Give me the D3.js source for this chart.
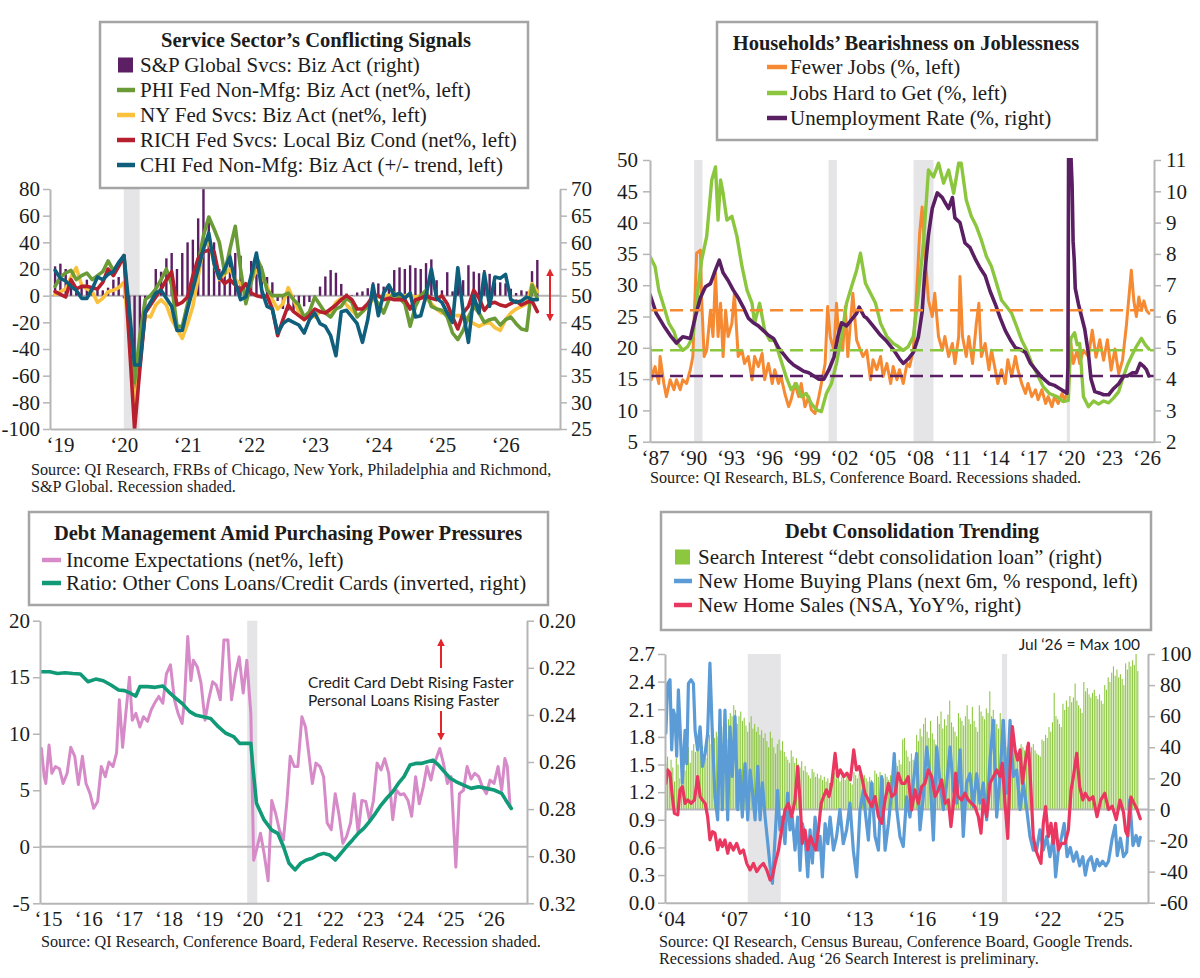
<!DOCTYPE html>
<html>
<head>
<meta charset="utf-8">
<title>Four panel chart</title>
<script src="https://cdn.jsdelivr.net/npm/d3@7"></script>
<style>
  body { margin: 0; background: #fff; }
  svg { display: block; }
</style>
</head>
<body>
<svg id="chart" width="1200" height="978"></svg>
<script>
// ---------- Panel 1: Service Sector's Conflicting Signals (monthly, Jan 2019 on) ----------
const svcStartYear = 2019;
const spGlobalBizAct = [
  55.5, 56, 55, 53, 51, 52, 53, 51, 51.5, 51, 51.5, 53,
  53.5, 49.5, 40, 27, 37, 48, 50, 55, 54.5, 57, 58, 55,
  58, 60, 60.5, 64.5, 70.5, 64.5, 60, 55, 55, 58.5, 58, 57.5,
  51, 56.5, 58, 55.5, 53.5, 52.5, 49, 47.5, 47.2, 47, 47.5, 48,
  48.8, 49.7, 51.7, 53.6, 54.8, 54.3, 52.2, 50.4, 50.1, 50.6, 50.8, 51.4,
  52.5, 52.3, 51.7, 51.3, 54.8, 55.3, 55, 55.7, 55.2, 55, 56.1, 56.8,
  52.9, 51, 54.4, 50.8, 52.3, 52.9, 55.7, 54.5, 54.2, 54.8, 54.1, 52.5,
  52.5, 52.3, 51.3, 50.5, 51, 50.8, 54.6, 56.7
];
const phiNonMfg = [
  7, 14, 17, 19, 12, 15, 17, 12, 15, 18, 26, 19,
  24, 30, -20, -65, -30, -3, 0, 5, 12, 20, 8, -23,
  -23, -6, 10, 24, 45, 59, 50, 40, 17, 35, 52, 20,
  -6, 10, 29, 20, 4, 0, 0, 0, 2, -3, -7, -16,
  -12, -1, -7, -13, -16, -10, -8, -2, -5, -16, -12, -8,
  -1, -6, -13, -3, 2, -2, -6, -23, -8, 0, 4, -8,
  -10, -11, -16, -28, -33, -26, -16, -8, -13, -20, -18, -17,
  -22, -18, -16, -21, -25, -26, 8, -2
];
const nySvcs = [
  1, 3, 5, 14, 21, 8, 5, 3, -5, -2, 3, 4,
  6, 10, -30, -85, -50, -15, -16, -7, -3, -7, -18, -25,
  -32, -21, -8, 14, 37, 42, 24, 12, 16, 20, 12, 9,
  4, 11, 19, 14, 7, -3, -10, -6, 6, -3, -12, -18,
  -13, -16, -12, -12, -12, -5, -2, -7, -11, -15, -12, -8,
  -3, -1, 0, 0, 0, -2, 0, 0, -1, 0, -2, -6,
  -10, -13, -12, -15, -15, -15, -18, -21, -23, -21, -20, -24,
  -26, -18, -13, -10, -8, -6, 9, 3
];
const richSvcs = [
  3, 1, -1, 12, 5, 7, 7, 6, 5, 10, 20, 15,
  22, 30, -35, -100, -55, -13, -7, -1, 5, 12, 18, -7,
  -5, -1, 15, 28, 33, 34, 33, 14, 9, 12, 8, 4,
  9, 2, 0, -1, 0, -10, -30, -18, -7, -12, -15, -18,
  -15, -10, -12, -13, -10, -7, -3, 0, -3, -10, -10, -6,
  0, 0, -3, -2, -3, -3, -3, -10, -3, -2, 0, -2,
  -3, 0, -6, -16, -25, -13, -8, 4, -2, -11, -6, -5,
  -7, -8, -6, -4, -7, -5, -4, -12
];
const chiNonMfg = [
  19, 13, 11, 7, 4, -2, -2, 5, 14, 12, 16, 18,
  25, 30, -10, -52, -52, -12, -5, 2, 4, -2, -8, -26,
  -26, -10, 5, 20, 35, 47, 24, 13, 20, 29, 10, -3,
  -1, 15, 32, 4, -8, -10, -28, -21, -18, -20, -22, -28,
  -18, -13, -21, -23, -30, -45, -12, -11, -16, -21, -35, -18,
  8, -15, 2, 8, 0, 2, -2, 2, -16, -15, 0, 20,
  -2, -5, -13, -20, 21, -12, -35, 0, -13, 17, -8, 14,
  13, 16, -3, -5, -4, -1, -3, -3
];
const svcRecessions = [[2020.08, 2020.33]];

// ---------- Panel 2: Households' Bearishness on Joblessness ----------
const fewerJobs = [
  [1987.0,20.2],[1987.1,14.9],[1987.4,17],[1987.7,14.3],[1987.8,18.6],[1988.1,14.3],[1988.3,12.2],[1988.6,14.9],
  [1988.9,13.3],[1989.1,14.9],[1989.4,13.3],[1989.6,14.9],[1989.9,14.3],[1990.2,16.5],[1990.4,18.6],[1990.7,35.1],
  [1991.0,35.6],[1991.1,27.6],[1991.3,18.6],[1991.5,19.6],[1991.8,26],[1992.0,21.8],[1992.2,31.9],[1992.4,21.8],
  [1992.6,27.1],[1992.8,18.6],[1993.0,26],[1993.2,21.8],[1993.5,23.9],[1993.7,28.7],[1994.0,18.6],[1994.3,19.6],
  [1994.5,17.5],[1994.8,18.6],[1995.1,14.9],[1995.3,18.6],[1995.6,17],[1995.9,19.1],[1996.1,14.9],[1996.4,17.5],
  [1996.7,14.3],[1996.9,16.5],[1997.2,14.3],[1997.4,15.4],[1997.7,12.7],[1998.0,10.6],[1998.2,11.7],[1998.5,14.3],
  [1998.8,12.2],[1999.0,14.3],[1999.3,10.6],[1999.6,12.2],[1999.8,10.1],[2000.1,9.5],[2000.4,12.2],[2000.6,14.3],
  [2000.9,17.5],[2001.1,26.6],[2001.3,21.8],[2001.6,19.6],[2001.8,27.1],[2002.0,21.2],[2002.3,19.6],[2002.5,26.6],
  [2002.7,18.6],[2002.9,23.9],[2003.1,28.7],[2003.4,21.2],[2003.7,19.6],[2003.9,18.6],[2004.2,19.6],[2004.5,14.9],
  [2004.7,18.1],[2005.0,16.5],[2005.3,18.6],[2005.5,15.4],[2005.8,17.5],[2006.1,14.3],[2006.3,17],[2006.6,14.9],
  [2006.8,16.5],[2007.1,14.3],[2007.4,17.5],[2007.6,17],[2007.9,19.6],[2008.2,30.3],[2008.4,38.3],[2008.6,42.5],
  [2008.8,35.6],[2009.1,27.6],[2009.4,25],[2009.6,28.7],[2009.9,21.8],[2010.2,19.6],[2010.4,21.8],[2010.7,18.6],
  [2011.0,20.7],[2011.2,17.5],[2011.5,21.8],[2011.6,31.4],[2011.8,21.8],[2012.1,18.6],[2012.3,21.8],[2012.6,17.5],
  [2012.9,23.9],[2013.1,27.1],[2013.3,18.6],[2013.6,20.7],[2013.9,16.5],[2014.1,19.6],[2014.4,16.5],[2014.6,14.3],
  [2014.9,16.5],[2015.2,14.3],[2015.4,18.1],[2015.7,15.4],[2016.0,18.6],[2016.2,16.5],[2016.5,14.3],[2016.8,12.7],
  [2017.0,14.3],[2017.3,12.2],[2017.6,13.3],[2017.8,11.7],[2018.1,13.3],[2018.4,11.1],[2018.6,12.2],[2018.9,10.6],
  [2019.1,12.2],[2019.4,11.1],[2019.7,12.7],[2019.9,11.7],[2020.2,13.3],[2020.4,20.7],[2020.6,17.5],[2020.9,19.6],
  [2021.1,17.5],[2021.4,19.6],[2021.8,18.6],[2022.1,22.8],[2022.4,18.5],[2022.7,21.3],[2023.0,18.0],[2023.3,21.3],
  [2023.6,16.4],[2023.9,19.8],[2024.2,15.9],[2024.5,18],[2024.8,23.4],[2025.2,32.4],[2025.4,27.5],[2025.6,25],
  [2025.8,28.1],[2026.0,26],[2026.2,27.5],[2026.4,26],[2026.6,25.5]
];
const jobsHardToGet = [
  [1987.0,34.6],[1987.4,33],[1987.7,29.2],[1988.1,26.6],[1988.5,23.9],[1988.9,22.6],[1989.2,20.7],[1989.6,19.6],
  [1990.0,20.2],[1990.4,21.8],[1990.8,29.2],[1991.1,34],[1991.5,37.8],[1991.9,46.8],[1992.2,48.9],[1992.4,40.4],
  [1992.6,46.8],[1992.8,44.7],[1993.1,40.4],[1993.5,41],[1993.9,37.8],[1994.3,33],[1994.7,29.2],[1995.1,27.1],
  [1995.3,23.9],[1995.7,27.1],[1996.1,22.8],[1996.5,21.2],[1996.9,21.2],[1997.3,18.6],[1997.8,15.4],[1998.2,13.3],
  [1998.6,14.3],[1999.0,12.2],[1999.4,12.7],[1999.8,11.1],[2000.2,10.1],[2000.6,9.8],[2001.0,12.7],[2001.4,14.3],
  [2001.8,17.5],[2002.2,21.8],[2002.6,27.1],[2003.0,29.8],[2003.4,32.4],[2003.7,35.1],[2004.1,30.3],[2004.5,28.7],
  [2004.9,27.1],[2005.3,23.9],[2005.8,21.8],[2006.3,20.7],[2006.7,20.2],[2007.1,19.6],[2007.5,20.2],[2007.9,21.8],
  [2008.3,28.7],[2008.7,36.7],[2009.1,48.4],[2009.5,47.3],[2009.9,49.5],[2010.3,46.3],[2010.7,48.4],[2011.1,44.7],
  [2011.5,49.5],[2011.7,49.5],[2012.1,43.6],[2012.5,41],[2012.9,39.4],[2013.3,37.2],[2013.7,34.6],[2014.1,33],
  [2014.5,30.3],[2014.9,27.6],[2015.3,26.6],[2015.7,25.5],[2016.1,23.4],[2016.5,21.2],[2016.9,19.6],[2017.3,17.5],
  [2017.7,15.9],[2018.2,13.8],[2018.7,12.7],[2019.3,12.2],[2019.8,11.4],[2020.2,11.6],[2020.4,21.5],[2020.7,22.4],
  [2020.9,20.5],[2021.1,20.7],[2021.4,12.2],[2021.8,10.6],[2022.2,11.5],[2022.6,11],[2023.0,11.5],[2023.4,11.2],
  [2023.8,12],[2024.2,13],[2024.5,15],[2024.9,17.3],[2025.3,19],[2025.6,20.2],[2026.0,21.5],[2026.3,20.5],[2026.6,19.8]
];
const unemploymentRate = [
  [1987.0,6.7],[1987.5,6.1],[1988.1,5.7],[1988.6,5.4],[1989.1,5.15],[1989.6,5.35],[1990.2,5.3],[1990.6,6.0],
  [1991.0,6.6],[1991.4,6.95],[1991.8,7.05],[1992.2,7.5],[1992.5,7.8],[1992.8,7.4],[1993.2,7.15],[1993.6,6.85],
  [1994.0,6.6],[1994.4,6.3],[1994.8,5.95],[1995.2,5.8],[1995.6,5.7],[1996.0,5.55],[1996.4,5.4],[1996.8,5.3],
  [1997.2,5.0],[1997.6,4.8],[1998.0,4.6],[1998.4,4.45],[1998.8,4.35],[1999.2,4.25],[1999.6,4.2],[2000.0,4.1],
  [2000.4,4.0],[2000.8,4.0],[2001.2,4.3],[2001.6,4.7],[2001.9,5.35],[2002.2,5.8],[2002.6,5.7],[2003.0,5.9],
  [2003.4,6.1],[2003.6,6.3],[2004.0,6.0],[2004.2,5.95],[2004.7,5.7],[2005.3,5.4],[2005.8,5.2],[2006.3,4.95],
  [2006.8,4.65],[2007.1,4.5],[2007.5,4.65],[2007.9,4.85],[2008.3,5.35],[2008.6,6.15],[2008.8,7.35],[2009.1,8.6],
  [2009.4,9.45],[2009.8,9.95],[2010.2,9.8],[2010.4,9.65],[2010.7,9.45],[2011.0,9.8],[2011.2,9.15],[2011.6,9.0],
  [2012.0,8.35],[2012.4,8.2],[2012.8,7.85],[2013.2,7.55],[2013.6,7.3],[2014.0,6.8],[2014.4,6.4],[2014.8,5.95],
  [2015.2,5.55],[2015.6,5.25],[2016.0,5.0],[2016.4,4.95],[2016.8,4.85],[2017.2,4.5],[2017.6,4.3],[2018.0,4.1],
  [2018.4,3.95],[2018.7,3.85],[2019.1,3.8],[2019.5,3.7],[2019.9,3.6],[2020.1,3.55],[2020.17,4.4],[2020.25,14.7],
  [2020.33,13.2],[2020.42,11.0],[2020.5,10.2],[2020.58,8.4],[2020.67,7.8],[2020.75,6.9],[2021.0,6.4],[2021.25,6.0],
  [2021.5,5.6],[2021.8,4.8],[2022.0,4.0],[2022.3,3.6],[2022.7,3.55],[2023.0,3.5],[2023.4,3.5],[2023.8,3.7],
  [2024.2,3.85],[2024.6,4.1],[2024.9,4.1],[2025.3,4.2],[2025.6,4.2],[2025.9,4.5],[2026.2,4.4],[2026.4,4.3],[2026.6,4.1]
];
const fewerJobsAvg = 26.0, jobsHardAvg = 19.6, unemploymentAvg = 4.1;
const jobRecessions = [[1990.5, 1991.17], [2001.17, 2001.83], [2007.92, 2009.5], [2020.08, 2020.33]];

// ---------- Panel 3: Debt Management Amid Purchasing Power Pressures ----------
const incomeExpectations = [
  [2014.96,8.7],[2015.03,6.2],[2015.07,5.6],[2015.15,9.0],[2015.22,6.5],[2015.31,7.1],[2015.41,6.9],[2015.5,5.6],
  [2015.6,6.5],[2015.69,8.8],[2015.79,8.0],[2015.88,5.5],[2015.98,8.0],[2016.07,5.6],[2016.17,4.7],[2016.26,3.4],
  [2016.36,4.0],[2016.45,7.1],[2016.55,6.2],[2016.64,7.5],[2016.74,7.1],[2016.83,8.3],[2016.9,13.0],[2016.98,8.8],
  [2017.06,11.8],[2017.15,15.0],[2017.22,11.2],[2017.31,11.8],[2017.41,10.6],[2017.5,11.5],[2017.6,11.1],[2017.69,12.1],
  [2017.79,12.8],[2017.88,13.3],[2017.98,12.7],[2018.07,15.3],[2018.17,16.1],[2018.27,13.0],[2018.36,11.8],[2018.46,10.9],
  [2018.52,13.0],[2018.6,18.6],[2018.68,14.7],[2018.74,16.5],[2018.84,15.9],[2018.93,14.5],[2019.03,11.2],[2019.12,13.0],
  [2019.22,14.6],[2019.31,14.3],[2019.41,13.0],[2019.5,18.3],[2019.6,18.3],[2019.69,13.0],[2019.79,15.3],[2019.88,16.8],
  [2019.98,13.6],[2020.07,16.5],[2020.17,11.8],[2020.24,-1.2],[2020.31,-0.3],[2020.41,1.2],[2020.5,-0.6],[2020.6,-3.0],
  [2020.69,4.1],[2020.79,2.9],[2020.88,1.5],[2020.98,0.6],[2021.07,4.1],[2021.15,8.0],[2021.25,7.1],[2021.34,7.1],
  [2021.44,11.5],[2021.53,10.6],[2021.63,7.7],[2021.7,5.6],[2021.79,7.4],[2021.89,7.1],[2021.98,6.2],[2022.07,2.1],
  [2022.17,1.5],[2022.27,4.7],[2022.36,2.9],[2022.46,0.3],[2022.55,0.9],[2022.65,2.1],[2022.74,4.7],[2022.84,1.2],
  [2022.93,4.1],[2023.03,4.0],[2023.12,2.4],[2023.22,4.1],[2023.31,7.4],[2023.41,6.8],[2023.5,7.8],[2023.6,6.5],
  [2023.7,2.4],[2023.79,5.0],[2023.89,4.6],[2023.98,4.7],[2024.08,4.1],[2024.17,2.7],[2024.27,6.2],[2024.36,3.8],
  [2024.46,5.3],[2024.55,7.1],[2024.65,5.9],[2024.74,7.4],[2024.87,8.7],[2024.96,7.4],[2025.06,5.6],[2025.15,6.2],
  [2025.27,-1.8],[2025.36,4.7],[2025.46,5.0],[2025.55,7.1],[2025.65,6.0],[2025.74,6.5],[2025.84,6.2],[2025.93,5.3],
  [2026.03,4.7],[2026.12,5.9],[2026.22,5.6],[2026.32,7.1],[2026.41,5.0],[2026.49,7.8],[2026.55,7.1],[2026.62,3.5]
];
const loansToCardsRatio = [
  [2014.96,0.2217],[2015.17,0.2217],[2015.36,0.2224],[2015.55,0.2221],[2015.74,0.2224],[2015.93,0.2226],[2016.12,0.2259],
  [2016.31,0.2248],[2016.5,0.2255],[2016.69,0.2273],[2016.88,0.2294],[2017.03,0.2297],[2017.17,0.2308],[2017.31,0.232],
  [2017.41,0.228],[2017.6,0.228],[2017.79,0.2283],[2017.98,0.2277],[2018.12,0.2301],[2018.27,0.2325],[2018.46,0.2351],
  [2018.65,0.2386],[2018.79,0.24],[2018.98,0.2408],[2019.17,0.2415],[2019.36,0.245],[2019.55,0.2478],[2019.74,0.2492],
  [2019.89,0.2521],[2020.03,0.2521],[2020.17,0.2521],[2020.22,0.262],[2020.31,0.2775],[2020.5,0.2846],[2020.69,0.2889],
  [2020.84,0.2903],[2020.98,0.2959],[2021.12,0.303],[2021.27,0.3058],[2021.41,0.303],[2021.55,0.3016],[2021.7,0.3009],
  [2021.84,0.2995],[2021.98,0.2988],[2022.13,0.2995],[2022.27,0.3016],[2022.41,0.2988],[2022.55,0.2959],[2022.7,0.2931],
  [2022.84,0.2903],[2022.98,0.2882],[2023.12,0.2853],[2023.27,0.2818],[2023.41,0.2783],[2023.55,0.2754],[2023.7,0.2726],
  [2023.84,0.2691],[2023.98,0.2662],[2024.13,0.2613],[2024.27,0.2606],[2024.41,0.2606],[2024.56,0.2599],[2024.7,0.2592],
  [2024.84,0.2613],[2024.98,0.2641],[2025.13,0.2669],[2025.27,0.2683],[2025.46,0.2698],[2025.65,0.2712],[2025.84,0.2705],
  [2026.03,0.2712],[2026.22,0.2719],[2026.41,0.2733],[2026.51,0.2761],[2026.65,0.2797]
];
const debtRecessions = [[2020.08, 2020.33]];

// ---------- Panel 4: Debt Consolidation Trending ----------
const searchStartYear = 2004; // monthly, Jan 2004 .. Aug 2026
const debtConsolidationSearch = [
  30, 34, 22, 32, 27, 18, 33, 29, 20, 31, 28, 25,
  36, 40, 30, 38, 42, 37, 40, 44, 38, 41, 36, 33,
  45, 48, 42, 52, 46, 50, 47, 55, 49, 53, 48, 45,
  58, 62, 60, 67, 64, 55, 60, 63, 57, 59, 54, 50,
  56, 60, 52, 55, 50, 53, 48, 51, 46, 49, 44, 40,
  50, 46, 40, 36, 42, 45, 38, 44, 37, 34, 32, 30,
  38, 34, 30, 33, 29, 27, 31, 25, 28, 24, 22, 20,
  26, 24, 21, 23, 20, 22, 19, 21, 18, 20, 17, 16,
  22, 24, 20, 23, 18, 21, 24, 19, 22, 20, 17, 16,
  24, 22, 20, 23, 21, 19, 22, 20, 18, 21, 19, 17,
  25, 23, 21, 24, 22, 20, 23, 21, 19, 22, 20, 18,
  30, 28, 32, 29, 45, 46, 38, 34, 31, 36, 32, 28,
  48, 44, 52, 47, 55, 59, 50, 46, 57, 49, 45, 42,
  60, 55, 63, 52, 58, 54, 61, 70, 56, 53, 50, 47,
  62, 59, 57, 54, 60, 67, 58, 55, 66, 57, 53, 50,
  67, 63, 60, 58, 65, 62, 76, 60, 64, 58, 55, 52,
  62, 58, 45, 38, 40, 42, 38, 41, 39, 36, 35, 33,
  42, 40, 38, 41, 39, 37, 40, 42, 38, 36, 35, 34,
  45, 44, 48, 46, 53, 50, 56, 75, 60, 58, 55, 53,
  68, 64, 70, 66, 73, 69, 72, 81, 70, 67, 65, 62,
  82, 76, 78, 74, 72, 75, 77, 73, 71, 74, 70, 68,
  80, 77, 85, 82, 88, 92, 86, 90, 85, 87, 84, 80,
  94, 90, 95, 92, 96, 93, 100, 89
];
const homeBuyingPlans = [
  [2004.0,1.84],[2004.09,2.38],[2004.2,2.42],[2004.28,1.66],[2004.36,2.09],[2004.44,2.02],[2004.52,1.59],[2004.6,2.31],
  [2004.68,1.91],[2004.79,1.3],[2004.92,1.87],[2005.0,1.51],[2005.08,2.38],[2005.21,2.42],[2005.32,2.38],[2005.4,1.87],
  [2005.52,1.66],[2005.64,1.91],[2005.75,1.48],[2005.88,1.62],[2006.0,1.84],[2006.11,2.6],[2006.23,1.8],[2006.35,1.15],
  [2006.48,0.9],[2006.59,2.09],[2006.7,1.01],[2006.83,2.09],[2006.96,0.9],[2007.07,1.91],[2007.18,1.37],[2007.31,2.02],
  [2007.44,1.01],[2007.55,1.44],[2007.66,0.93],[2007.79,1.51],[2007.92,0.9],[2008.03,1.44],[2008.14,1.22],[2008.27,0.9],
  [2008.4,1.48],[2008.51,0.9],[2008.62,1.3],[2008.75,0.93],[2008.88,0.64],[2008.99,0.39],[2009.1,0.21],[2009.23,0.72],
  [2009.35,1.22],[2009.46,0.79],[2009.57,0.93],[2009.7,0.64],[2009.83,1.19],[2009.94,0.79],[2010.05,0.93],[2010.18,0.57],
  [2010.31,0.93],[2010.42,0.35],[2010.53,0.86],[2010.66,0.72],[2010.79,0.28],[2010.9,0.79],[2011.01,0.43],[2011.14,0.93],
  [2011.27,0.57],[2011.38,0.72],[2011.49,0.28],[2011.62,0.86],[2011.75,0.64],[2011.86,0.93],[2012.02,0.57],[2012.17,0.72],
  [2012.33,1.01],[2012.49,0.64],[2012.65,0.79],[2012.81,1.08],[2012.97,0.57],[2013.13,0.28],[2013.29,1.01],[2013.45,1.22],
  [2013.53,1.01],[2013.69,0.68],[2013.85,1.3],[2014.01,0.72],[2014.17,0.57],[2014.33,1.37],[2014.49,0.57],[2014.65,0.86],
  [2014.81,1.22],[2014.93,1.62],[2015.05,1.01],[2015.2,0.72],[2015.36,0.61],[2015.52,1.15],[2015.68,0.93],[2015.84,1.3],
  [2016.0,1.62],[2016.16,0.79],[2016.32,1.15],[2016.48,1.69],[2016.64,1.37],[2016.8,0.68],[2016.96,1.69],[2017.12,1.3],
  [2017.28,1.01],[2017.44,1.3],[2017.6,1.69],[2017.76,1.22],[2017.92,1.08],[2018.08,1.66],[2018.23,0.72],[2018.39,1.3],
  [2018.55,1.4],[2018.71,1.04],[2018.87,1.4],[2019.03,1.08],[2019.19,1.3],[2019.35,0.9],[2019.51,1.55],[2019.67,1.98],
  [2019.83,0.93],[2019.99,1.37],[2020.15,1.98],[2020.31,1.19],[2020.47,1.98],[2020.63,1.37],[2020.79,1.44],[2020.95,1.01],
  [2021.11,1.3],[2021.27,1.01],[2021.42,0.72],[2021.58,0.57],[2021.74,0.57],[2021.9,0.79],[2022.06,0.57],[2022.22,0.72],
  [2022.38,0.5],[2022.54,0.72],[2022.65,0.28],[2022.78,0.57],[2022.94,0.72],[2023.06,0.86],[2023.2,0.5],[2023.35,0.6],
  [2023.5,0.45],[2023.65,0.55],[2023.8,0.4],[2023.95,0.5],[2024.07,0.3],[2024.2,0.45],[2024.35,0.5],[2024.5,0.35],
  [2024.63,0.47],[2024.75,0.4],[2024.9,0.45],[2025.05,0.4],[2025.18,0.45],[2025.35,0.69],[2025.5,0.84],[2025.6,0.51],
  [2025.75,0.7],[2025.9,0.5],[2026.05,0.55],[2026.2,1.12],[2026.35,0.62],[2026.5,0.73],[2026.62,0.62],[2026.7,0.71]
];
const newHomeSalesYoY = [
  [2004.0,16.8],[2004.09,25.4],[2004.2,23.3],[2004.31,8.3],[2004.41,-2.5],[2004.57,-3.5],[2004.68,12.6],[2004.79,14.7],
  [2004.92,3.9],[2005.05,6.1],[2005.21,3.9],[2005.37,6.1],[2005.52,21.1],[2005.64,8.3],[2005.75,6.1],[2005.88,3.9],
  [2006.0,-4.6],[2006.11,-19.6],[2006.23,-14.3],[2006.35,-15.3],[2006.48,-26.1],[2006.59,-19.6],[2006.7,-23.9],[2006.83,-19.6],
  [2006.96,-28.2],[2007.07,-21.8],[2007.23,-26.1],[2007.39,-21.8],[2007.55,-28.2],[2007.71,-26.1],[2007.87,-34.7],[2008.03,-38.9],
  [2008.19,-34.7],[2008.35,-40],[2008.51,-36.8],[2008.67,-34.7],[2008.83,-38.9],[2008.99,-45.4],[2009.1,-43.2],[2009.23,-34.7],
  [2009.39,-26.1],[2009.54,-13.2],[2009.7,-0.3],[2009.86,3.9],[2010.02,-4.6],[2010.18,6.1],[2010.31,27.6],[2010.42,6.1],
  [2010.53,-21.8],[2010.66,-13.2],[2010.79,-26.1],[2010.92,-17.5],[2011.04,-21.8],[2011.17,-26.1],[2011.3,-13.2],[2011.43,3.9],
  [2011.55,8.3],[2011.68,12.6],[2011.81,8.3],[2011.94,16.8],[2012.1,36.1],[2012.22,21.1],[2012.35,25.4],[2012.51,21.1],
  [2012.67,23.3],[2012.83,19],[2012.99,38.3],[2013.12,25.4],[2013.25,27.6],[2013.37,21.1],[2013.53,10.4],[2013.69,6.1],
  [2013.85,1.8],[2014.01,8.3],[2014.17,-4.6],[2014.33,-8.9],[2014.49,6.1],[2014.65,16.8],[2014.81,8.3],[2014.97,10.4],
  [2015.12,23.3],[2015.28,16.8],[2015.44,16.8],[2015.6,21.1],[2015.76,-0.3],[2015.92,12.6],[2016.08,3.9],[2016.24,14.7],
  [2016.4,16.8],[2016.56,25.4],[2016.72,21.1],[2016.88,8.3],[2017.04,12.6],[2017.2,19],[2017.36,3.9],[2017.52,6.1],
  [2017.64,-11],[2017.76,3.9],[2017.87,23.3],[2017.98,8.3],[2018.16,6.1],[2018.31,10.4],[2018.47,6.1],[2018.63,3.9],
  [2018.79,1.8],[2018.95,-4.6],[2019.08,-15.3],[2019.19,6.1],[2019.35,-4.6],[2019.51,16.8],[2019.67,21.1],[2019.83,25.4],
  [2019.99,21.1],[2020.1,29.7],[2020.23,3.9],[2020.36,-18.7],[2020.47,25.4],[2020.58,53.3],[2020.71,38.3],[2020.83,31.8],
  [2020.95,38.3],[2021.06,16.8],[2021.19,29.7],[2021.35,42.6],[2021.47,12.6],[2021.58,-17.5],[2021.7,-26.1],[2021.82,-30.4],
  [2021.95,-34.7],[2022.06,-8.9],[2022.17,1.8],[2022.3,-17.5],[2022.43,-8.9],[2022.54,-21.8],[2022.65,-8.9],[2022.78,-26.1],
  [2022.94,-21.8],[2023.1,-21.8],[2023.26,-13.2],[2023.39,12.6],[2023.5,21.1],[2023.66,36.1],[2023.8,14.7],[2023.95,6.1],
  [2024.07,10.4],[2024.26,6.1],[2024.44,8.2],[2024.63,-4.6],[2024.81,6.1],[2025.0,10.4],[2025.18,0],[2025.36,2.1],
  [2025.55,-6.5],[2025.73,6],[2025.9,-2],[2026.0,-14],[2026.1,-17],[2026.25,8],[2026.4,4],[2026.55,0],[2026.7,-6]
];
const housingRecessions = [[2007.92, 2009.5], [2020.08, 2020.33]];

// ---------- drawing ----------
const SERIF = '"Liberation Serif", "Times New Roman", serif';
const SANS = 'Lato, "Noto Sans", sans-serif';
const AXIS_GRAY = '#b5b5b5', SHADE = '#e5e5e8', INK = '#1c1c1c', RED = '#e3262e';
const TICK_FONT = 21, LEGEND_FONT = 21, TITLE_FONT = 20.5, NOTE_FONT = 16.2;

// plain hyphen for negatives, like the original chart
const intFmt = d => d3.format('d')(d).replace('\u2212', '-');

const svg = d3.select('#chart');
svg.append('rect').attr('width', 1200).attr('height', 978).attr('fill', '#fff');
const defs = svg.append('defs');
defs.append('marker').attr('id', 'redHead').attr('viewBox', '0 0 10 10')
  .attr('refX', 8).attr('refY', 5).attr('markerWidth', 4).attr('markerHeight', 4)
  .attr('orient', 'auto-start-reverse')
  .append('path').attr('d', 'M0,0L10,5L0,10z').attr('fill', RED);

function makePanel(id, x, yL, yR, recessions) {
  const [x0, x1] = x.range();
  const [y0, y1] = yL.range(); // bottom, top
  const g = svg.append('g');
  defs.append('clipPath').attr('id', 'clip' + id).append('rect')
    .attr('x', x0).attr('y', y1 - 2).attr('width', x1 - x0).attr('height', y0 - y1 + 2);
  g.selectAll('rect.rec').data(recessions).join('rect').attr('class', 'rec')
    .attr('x', d => x(d[0])).attr('y', y1)
    .attr('width', d => x(d[1]) - x(d[0])).attr('height', y0 - y1)
    .attr('fill', SHADE);
  const plot = g.append('g').attr('clip-path', `url(#clip${id})`);
  return { g, plot, x, yL, yR, x0, x1, y0, y1 };
}

function zeroLine(P, y) {
  P.plot.append('line').attr('x1', P.x0).attr('x2', P.x1).attr('y1', y).attr('y2', y)
    .attr('stroke', AXIS_GRAY).attr('stroke-width', 2);
}

function drawLine(P, data, yScale, color, width, dash) {
  P.plot.append('path').datum(data)
    .attr('fill', 'none').attr('stroke', color).attr('stroke-width', width)
    .attr('stroke-linejoin', 'round').attr('stroke-linecap', dash ? 'butt' : 'round')
    .attr('stroke-dasharray', dash || null)
    .attr('d', d3.line().x(d => P.x(d[0])).y(d => yScale(d[1])));
}

function drawAxes(P, o) {
  const left = P.g.append('g').attr('transform', `translate(${P.x0},0)`)
    .call(d3.axisLeft(P.yL).tickValues(o.left).tickFormat(o.leftFmt)
      .tickSize(7).tickSizeOuter(0).tickPadding(o.padL));
  const right = P.g.append('g').attr('transform', `translate(${P.x1},0)`)
    .call(d3.axisRight(P.yR).tickValues(o.right).tickFormat(o.rightFmt)
      .tickSize(7).tickSizeOuter(0).tickPadding(o.padR));
  const bottom = P.g.append('g').attr('transform', `translate(0,${P.y0})`)
    .call(d3.axisBottom(P.x).tickValues(o.years)
      .tickFormat(d => '\u2018' + String(d).slice(2))
      .tickSize(0).tickSizeOuter(0).tickPadding(8));
  bottom.selectAll('text').attr('dx', 5);
  [left, right, bottom].forEach(a => {
    a.attr('font-family', SERIF).attr('font-size', TICK_FONT);
    a.select('.domain').attr('stroke', AXIS_GRAY).attr('stroke-width', 2);
    a.selectAll('.tick line').attr('stroke', AXIS_GRAY).attr('stroke-width', 1.5);
    a.selectAll('.tick text').attr('fill', INK);
  });
}

function sourceNote(x, ys, lines) {
  lines.forEach((t, i) => svg.append('text').attr('x', x).attr('y', ys[i])
    .attr('font-family', SERIF).attr('font-size', NOTE_FONT).attr('fill', INK).text(t));
}

function legendBox(b) {
  const g = svg.append('g');
  g.append('rect').attr('x', b.x).attr('y', b.y).attr('width', b.w).attr('height', b.h)
    .attr('fill', '#fff').attr('stroke', '#a5a5a5').attr('stroke-width', 2.5);
  g.append('text').attr('x', b.titleX).attr('y', b.titleY).attr('text-anchor', 'middle')
    .attr('font-family', SERIF).attr('font-weight', 'bold').attr('font-size', TITLE_FONT)
    .attr('fill', INK).text(b.title);
  b.items.forEach((it, i) => {
    const yc = b.rows[i];
    if (it.square) {
      g.append('rect').attr('x', b.symX + 1).attr('y', yc - 7.5).attr('width', 15).attr('height', 15)
        .attr('fill', it.color);
    } else {
      g.append('line').attr('x1', b.symX).attr('x2', b.symX + b.symW).attr('y1', yc).attr('y2', yc)
        .attr('stroke', it.color).attr('stroke-width', 4.5);
    }
    g.append('text').attr('x', b.textX).attr('y', yc + 7)
      .attr('font-family', SERIF).attr('font-size', LEGEND_FONT).attr('fill', INK).text(it.label);
  });
}

const monthly = (arr, start) => arr.map((v, i) => [start + i / 12, v]);

// ===== Panel 1 =====
{
  const x = d3.scaleLinear().domain([2018.92, 2026.94]).range([50, 560]);
  const yL = d3.scaleLinear().domain([-100, 80]).range([429, 189]);
  const yR = d3.scaleLinear().domain([25, 70]).range([429, 189]);
  const P = makePanel(1, x, yL, yR, svcRecessions);
  zeroLine(P, yL(0));
  P.plot.selectAll('rect.bar').data(spGlobalBizAct).join('rect').attr('class', 'bar')
    .attr('x', (d, i) => x(svcStartYear + i / 12) - 1.2).attr('width', 2.4)
    .attr('y', d => Math.min(yR(d), yR(50))).attr('height', d => Math.abs(yR(d) - yR(50)))
    .attr('fill', '#5c1f63');
  drawLine(P, monthly(nySvcs, svcStartYear), yL, '#f9c13c', 3.6);
  drawLine(P, monthly(phiNonMfg, svcStartYear), yL, '#6b9b37', 3.6);
  drawLine(P, monthly(richSvcs, svcStartYear), yL, '#b51f2e', 3.6);
  drawLine(P, monthly(chiNonMfg, svcStartYear), yL, '#0f5f7c', 3.6);
  drawAxes(P, {
    left: d3.range(-100, 81, 20), leftFmt: intFmt, padL: 3,
    right: d3.range(25, 71, 5), rightFmt: intFmt, padR: 4,
    years: d3.range(2019, 2027)
  });
  svg.append('line').attr('x1', 550).attr('x2', 550).attr('y1', 270).attr('y2', 320)
    .attr('stroke', RED).attr('stroke-width', 2)
    .attr('marker-start', 'url(#redHead)').attr('marker-end', 'url(#redHead)');
  sourceNote(31, [475, 492], [
    'Source: QI Research, FRBs of Chicago, New York, Philadelphia and Richmond,',
    'S&P Global. Recession shaded.'
  ]);
  legendBox({
    x: 100, y: 22, w: 428, h: 166, titleX: 316, titleY: 46.5,
    title: 'Service Sector\u2019s Conflicting Signals',
    symX: 117, symW: 18, textX: 140, rows: [65, 90, 115, 140, 165],
    items: [
      { label: 'S&P Global Svcs: Biz Act (right)', color: '#5c1f63', square: true },
      { label: 'PHI Fed Non-Mfg: Biz Act (net%, left)', color: '#6b9b37' },
      { label: 'NY Fed Svcs: Biz Act (net%, left)', color: '#f9c13c' },
      { label: 'RICH Fed Svcs: Local Biz Cond (net%, left)', color: '#b51f2e' },
      { label: 'CHI Fed Non-Mfg: Biz Act (+/- trend, left)', color: '#0f5f7c' }
    ]
  });
}

// ===== Panel 2 =====
{
  const x = d3.scaleLinear().domain([1987, 2027]).range([650, 1154]);
  const yL = d3.scaleLinear().domain([5, 50]).range([441.7, 160]);
  const yR = d3.scaleLinear().domain([2, 11]).range([441.7, 160]);
  const P = makePanel(2, x, yL, yR, jobRecessions);
  drawLine(P, fewerJobs, yL, '#f58a33', 3);
  drawLine(P, jobsHardToGet, yL, '#8cc63f', 3.4);
  drawLine(P, unemploymentRate, yR, '#5a1f63', 3.6);
  const span = [[1987, 0], [2027, 0]];
  drawLine(P, span.map(d => [d[0], fewerJobsAvg]), yL, '#f58a33', 2.5, '13,7');
  drawLine(P, span.map(d => [d[0], jobsHardAvg]), yL, '#8cc63f', 2.5, '13,7');
  drawLine(P, span.map(d => [d[0], unemploymentAvg]), yR, '#5a1f63', 2.5, '13,7');
  drawAxes(P, {
    left: d3.range(5, 51, 5), leftFmt: intFmt, padL: 5,
    right: d3.range(2, 12, 1), rightFmt: intFmt, padR: 5,
    years: d3.range(1987, 2027, 3)
  });
  sourceNote(650, [483], ['Source: QI Research, BLS, Conference Board. Recessions shaded.']);
  legendBox({
    x: 717, y: 22, w: 380, h: 118, titleX: 906, titleY: 49.5,
    title: 'Households\u2019 Bearishness on Joblessness',
    symX: 767, symW: 20, textX: 790, rows: [67, 93, 118],
    items: [
      { label: 'Fewer Jobs (%, left)', color: '#f58a33' },
      { label: 'Jobs Hard to Get (%, left)', color: '#8cc63f' },
      { label: 'Unemployment Rate (%, right)', color: '#5a1f63' }
    ]
  });
}

// ===== Panel 3 =====
{
  const x = d3.scaleLinear().domain([2014.925, 2027.04]).range([40, 527]);
  const yL = d3.scaleLinear().domain([-5, 20]).range([903.3, 620.7]);
  const yR = d3.scaleLinear().domain([0.32, 0.20]).range([903.3, 620.7]);
  const P = makePanel(3, x, yL, yR, debtRecessions);
  zeroLine(P, yL(0));
  drawLine(P, incomeExpectations, yL, '#d68bc8', 3);
  drawLine(P, loansToCardsRatio, yR, '#119a77', 3.6);
  drawAxes(P, {
    left: d3.range(-5, 21, 5), leftFmt: intFmt, padL: 3,
    right: d3.range(0.20, 0.321, 0.02), rightFmt: d3.format('.2f'), padR: 5,
    years: d3.range(2015, 2027)
  });
  svg.append('text').attr('x', 308).attr('y', 688).attr('font-family', SANS).attr('font-size', 15.5)
    .attr('fill', INK).text('Credit Card Debt Rising Faster');
  svg.append('text').attr('x', 308).attr('y', 706).attr('font-family', SANS).attr('font-size', 15.5)
    .attr('fill', INK).text('Personal Loans Rising Faster');
  svg.append('line').attr('x1', 441).attr('x2', 441).attr('y1', 668).attr('y2', 640)
    .attr('stroke', RED).attr('stroke-width', 2).attr('marker-end', 'url(#redHead)');
  svg.append('line').attr('x1', 441).attr('x2', 441).attr('y1', 711).attr('y2', 739)
    .attr('stroke', RED).attr('stroke-width', 2).attr('marker-end', 'url(#redHead)');
  sourceNote(41, [947], ['Source: QI Research, Conference Board, Federal Reserve. Recession shaded.']);
  legendBox({
    x: 29, y: 512, w: 519, h: 93, titleX: 288, titleY: 539.5,
    title: 'Debt Management Amid Purchasing Power Pressures',
    symX: 42, symW: 19, textX: 66, rows: [560, 583],
    items: [
      { label: 'Income Expectations (net%, left)', color: '#d68bc8' },
      { label: 'Ratio: Other Cons Loans/Credit Cards (inverted, right)', color: '#119a77' }
    ]
  });
}

// ===== Panel 4 =====
{
  const x = d3.scaleLinear().domain([2003.96, 2027.07]).range([665, 1148]);
  const yL = d3.scaleLinear().domain([0, 2.7]).range([902.7, 654]);
  const yR = d3.scaleLinear().domain([-60, 100]).range([902.7, 654]);
  const P = makePanel(4, x, yL, yR, housingRecessions);
  P.plot.selectAll('rect.bar').data(debtConsolidationSearch).join('rect').attr('class', 'bar')
    .attr('x', (d, i) => x(searchStartYear + i / 12) - 0.55).attr('width', 1.1)
    .attr('y', d => yR(d)).attr('height', d => yR(0) - yR(d))
    .attr('fill', '#8fc843');
  zeroLine(P, yR(0));
  drawLine(P, homeBuyingPlans, yL, '#5b9bd6', 3.2);
  drawLine(P, newHomeSalesYoY, yR, '#e9375f', 3.2);
  drawAxes(P, {
    left: d3.range(0, 2.71, 0.3), leftFmt: d3.format('.1f'), padL: 3,
    right: d3.range(-60, 101, 20), rightFmt: intFmt, padR: 5,
    years: d3.range(2004, 2027, 3)
  });
  svg.append('text').attr('x', 1140).attr('y', 650).attr('text-anchor', 'end')
    .attr('font-family', SANS).attr('font-size', 15.5).attr('fill', INK)
    .text('Jul \u201826 = Max 100');
  sourceNote(659, [947, 964], [
    'Source: QI Research, Census Bureau, Conference Board, Google Trends.',
    'Recessions shaded. Aug \u201826 Search Interest is preliminary.'
  ]);
  legendBox({
    x: 661, y: 512, w: 490, h: 118, titleX: 912, titleY: 538,
    title: 'Debt Consolidation Trending',
    symX: 674, symW: 18, textX: 698, rows: [557, 581, 605],
    items: [
      { label: 'Search Interest \u201cdebt consolidation loan\u201d (right)', color: '#8dc63f', square: true },
      { label: 'New Home Buying Plans (next 6m, % respond, left)', color: '#5b9bd6' },
      { label: 'New Home Sales (NSA, YoY%, right)', color: '#e9375f' }
    ]
  });
}
</script>
</body>
</html>
